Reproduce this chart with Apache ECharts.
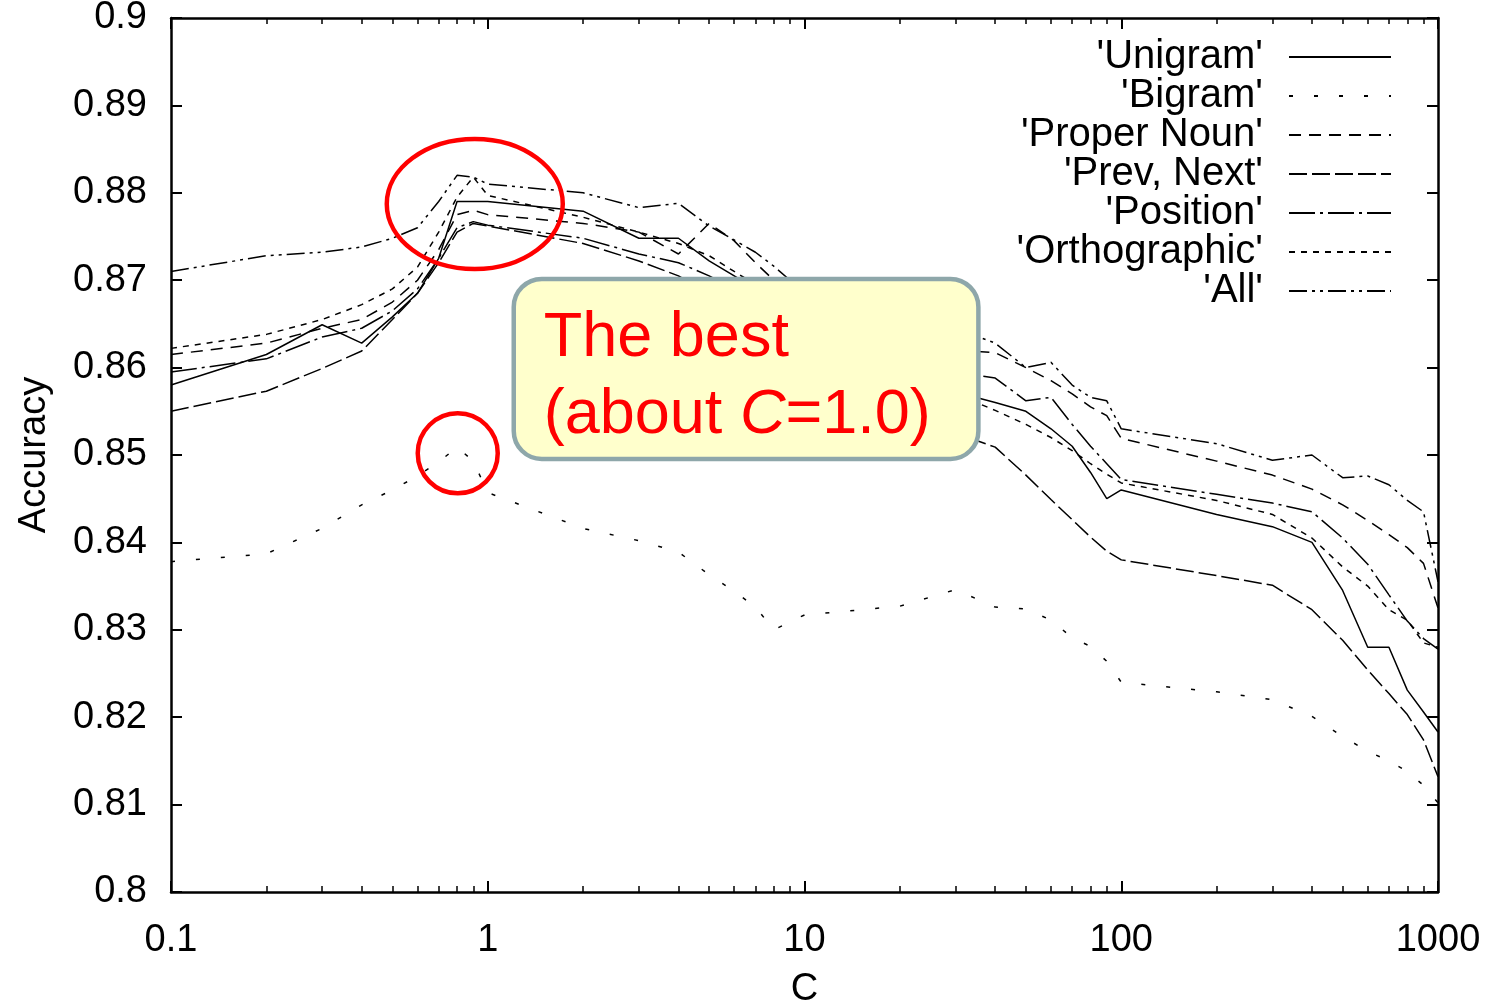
<!DOCTYPE html>
<html>
<head>
<meta charset="utf-8">
<script src="https://cdn.jsdelivr.net/npm/echarts@6/dist/echarts.min.js"></script>
<style>
html,body{margin:0;padding:0;background:#ffffff;}
#chart{width:1495px;height:1003px;}
</style>
</head>
<body>
<div id="chart"></div>
<script>
// ---------------- data ----------------
const cValues = [0.1,0.2,0.3,0.4,0.5,0.6,0.7,0.8,0.9,1,
  2,3,4,5,6,7,8,9,10,
  20,30,40,50,60,70,80,90,100,
  200,300,400,500,600,700,800,900,1000];

const seriesNames = ["'Unigram'", "'Bigram'", "'Proper Noun'", "'Prev, Next'", "'Position'", "'Orthographic'", "'All'"];

const unigram = [0.858,0.8615,0.8649,0.8628,0.8658,0.8685,0.8725,0.879,0.879,0.879,
  0.8779,0.8748,0.8748,0.8722,0.8705,0.869,0.8678,0.8668,0.866,
  0.8605,0.8572,0.856,0.855,0.853,0.851,0.848,0.845,0.846,
  0.8432,0.8418,0.840,0.8345,0.828,0.828,0.8231,0.8206,0.8183];

const bigram = [0.8378,0.8387,0.8416,0.8443,0.846,0.8476,0.8492,0.8509,0.8493,0.8457,
  0.8416,0.8402,0.8389,0.8363,0.8344,0.8326,0.830,0.8309,0.8317,
  0.8327,0.8346,0.8326,0.8324,0.8311,0.8291,0.8281,0.8264,0.824,
  0.8229,0.822,0.8201,0.8178,0.8161,0.815,0.8138,0.8122,0.8102];

const properNoun = [0.8615,0.8628,0.8645,0.8655,0.8675,0.870,0.8735,0.8775,0.878,0.8775,
  0.8765,0.8755,0.873,0.8765,0.8745,0.872,0.870,0.868,0.8665,
  0.8635,0.862,0.8617,0.860,0.8585,0.857,0.8555,0.8545,0.8519,
  0.8493,0.8477,0.8461,0.8443,0.8425,0.8409,0.8394,0.8376,0.8325];

const prevNext = [0.855,0.8573,0.8599,0.8619,0.8655,0.8685,0.872,0.8755,0.8765,0.8762,
  0.8742,0.8722,0.8705,0.8685,0.866,0.8645,0.863,0.8615,0.860,
  0.8555,0.8525,0.8509,0.8477,0.8449,0.8426,0.8406,0.839,0.838,
  0.8362,0.8351,0.8323,0.8288,0.8254,0.8227,0.8203,0.8174,0.8132];

const position = [0.8595,0.861,0.8635,0.8645,0.8665,0.869,0.8725,0.876,0.8767,0.8763,
  0.8748,0.873,0.872,0.8705,0.869,0.8675,0.866,0.8645,0.863,
  0.8605,0.8595,0.8588,0.8562,0.8566,0.8535,0.851,0.849,0.8472,
  0.8455,0.8445,0.8435,0.8405,0.8375,0.834,0.831,0.829,0.8278];

const orthographic = [0.8622,0.8638,0.8655,0.8672,0.869,0.8715,0.8755,0.8795,0.8818,0.8797,
  0.8772,0.8755,0.8742,0.8728,0.871,0.8695,0.868,0.8665,0.865,
  0.860,0.857,0.8551,0.8535,0.852,0.8505,0.849,0.8478,0.8468,
  0.8448,0.8432,0.8405,0.8372,0.835,0.8323,0.8311,0.8285,0.828];

const allFeatures = [0.871,0.8728,0.8732,0.8738,0.8748,0.876,0.879,0.882,0.8818,0.881,
  0.880,0.8783,0.8788,0.8762,0.8746,0.8732,0.8716,0.870,0.869,
  0.8665,0.8645,0.8628,0.860,0.8606,0.858,0.8566,0.8562,0.853,
  0.8513,0.8494,0.850,0.8474,0.8476,0.8466,0.8448,0.8435,0.8355];

const xTickValues = [0.1, 1, 10, 100, 1000];
const xTickLabels = ['0.1', '1', '10', '100', '1000'];
const yTickLabels = ['0.8','0.81','0.82','0.83','0.84','0.85','0.86','0.87','0.88','0.89','0.9'];
const xMinorTickValues = [0.2,0.3,0.4,0.5,0.6,0.7,0.8,0.9,
  2,3,4,5,6,7,8,9, 20,30,40,50,60,70,80,90, 200,300,400,500,600,700,800,900];

// annotation anchors in data space (C, accuracy)
const boxCorners = [[1.208, 0.87015], [35.4, 0.84955]];
const bigEllipse = { c: 0.91, v: 0.87872, rx: 88, ry: 65 };
const smallEllipse = { c: 0.804, v: 0.8502, rx: 40, ry: 40 };

// ---------------- styling ----------------
const FONT = "'Liberation Sans', Arial, Helvetica, sans-serif";
const seriesData = [unigram, bigram, properNoun, prevNext, position, orthographic, allFeatures];
const dashTypes = [
  'solid',
  [4, 21],
  [12, 8],
  [18, 5],
  [26, 5, 3, 5],
  [6, 6],
  [18, 5, 3, 5, 3, 5]
];

const chart = echarts.init(document.getElementById('chart'), null, { renderer: 'canvas' });

const gridRect = { left: 171, right: 57, top: 18, bottom: 111 };
const axisLineStyle = { color: '#000', width: 2.5 };

function xLabel(v) {
  for (let i = 0; i < xTickValues.length; i++) {
    if (Math.abs(v - xTickValues[i]) / xTickValues[i] < 1e-6) return xTickLabels[i];
  }
  return '';
}
function yLabel(v) {
  const i = Math.round((v - 0.8) / 0.01);
  return yTickLabels[i] !== undefined ? yTickLabels[i] : '';
}

const series = seriesNames.map((name, k) => ({
  name: name,
  type: 'line',
  xAxisIndex: 0,
  yAxisIndex: 0,
  symbol: 'none',
  showSymbol: false,
  smooth: false,
  animation: false,
  lineStyle: { color: '#000', width: 1.5, type: dashTypes[k] },
  itemStyle: { color: '#000' },
  emphasis: { disabled: true },
  data: cValues.map((c, i) => [c, seriesData[k][i]])
}));

const option = {
  backgroundColor: '#ffffff',
  animation: false,
  grid: [
    Object.assign({ containLabel: false, outerBoundsMode: 'none' }, gridRect),
    Object.assign({ containLabel: false, outerBoundsMode: 'none' }, gridRect)
  ],
  legend: {
    orient: 'vertical',
    right: 103,
    top: 37,
    align: 'right',
    itemWidth: 102,
    itemHeight: 14,
    itemGap: -1,
    padding: 0,
    selectedMode: false,
    data: seriesNames,
    itemStyle: { color: 'rgba(0,0,0,0)', borderWidth: 0, opacity: 0 },
    textStyle: { fontSize: 40, fontFamily: FONT, color: '#000', lineHeight: 38, padding: [0, 21, 0, 0] }
  },
  xAxis: [
    {
      type: 'log', logBase: 10, min: 0.1, max: 1000, gridIndex: 0, position: 'bottom',
      name: 'C', nameLocation: 'middle', nameGap: 79,
      nameTextStyle: { fontSize: 38, fontFamily: FONT, color: '#000' },
      axisLine: { show: true, onZero: false, lineStyle: axisLineStyle },
      axisTick: { show: true, inside: true, length: 11, lineStyle: { color: '#000', width: 2 } },
      axisLabel: { show: true, margin: 30, fontSize: 38, fontFamily: FONT, color: '#000', formatter: xLabel },
      splitLine: { show: false }, minorTick: { show: false }
    },
    {
      type: 'log', logBase: 10, min: 0.1, max: 1000, gridIndex: 0, position: 'top',
      axisLine: { show: true, onZero: false, lineStyle: axisLineStyle },
      axisTick: { show: true, inside: true, length: 11, lineStyle: { color: '#000', width: 2 } },
      axisLabel: { show: false },
      splitLine: { show: false }
    },
    {
      type: 'value', min: -1, max: 3, gridIndex: 1, position: 'bottom',
      axisLine: { show: false, onZero: false },
      axisTick: { show: true, inside: true, length: 6, customValues: xMinorTickValues.map(v => Math.log10(v)), lineStyle: { color: '#000', width: 1.5 } },
      axisLabel: { show: false },
      splitLine: { show: false }
    },
    {
      type: 'value', min: -1, max: 3, gridIndex: 1, position: 'top',
      axisLine: { show: false, onZero: false },
      axisTick: { show: true, inside: true, length: 6, customValues: xMinorTickValues.map(v => Math.log10(v)), lineStyle: { color: '#000', width: 1.5 } },
      axisLabel: { show: false },
      splitLine: { show: false }
    }
  ],
  yAxis: [
    {
      type: 'value', min: 0.8, max: 0.9, interval: 0.01, gridIndex: 0, position: 'left',
      name: 'Accuracy', nameLocation: 'middle', nameGap: 117, nameRotate: 90,
      nameTextStyle: { fontSize: 38, fontFamily: FONT, color: '#000' },
      axisLine: { show: true, onZero: false, lineStyle: axisLineStyle },
      axisTick: { show: true, inside: true, length: 11, lineStyle: { color: '#000', width: 2 } },
      axisLabel: { show: true, margin: 24, fontSize: 38, fontFamily: FONT, color: '#000', formatter: yLabel },
      splitLine: { show: false }
    },
    {
      type: 'value', min: 0.8, max: 0.9, interval: 0.01, gridIndex: 0, position: 'right',
      axisLine: { show: true, onZero: false, lineStyle: axisLineStyle },
      axisTick: { show: true, inside: true, length: 11, lineStyle: { color: '#000', width: 2 } },
      axisLabel: { show: false },
      splitLine: { show: false }
    },
    {
      type: 'value', min: 0, max: 1, gridIndex: 1, show: false,
      axisLine: { onZero: false }
    }
  ],
  series: series
};

chart.setOption(option);

// ---------------- annotations ----------------
function toPx(c, v) { return chart.convertToPixel({ gridIndex: 0 }, [c, v]); }
const p0 = toPx(boxCorners[0][0], boxCorners[0][1]);
const p1 = toPx(boxCorners[1][0], boxCorners[1][1]);
const e1 = toPx(bigEllipse.c, bigEllipse.v);
const e2 = toPx(smallEllipse.c, smallEllipse.v);

chart.setOption({
  graphic: [
    {
      type: 'rect', z: 100,
      shape: { x: p0[0], y: p0[1], width: p1[0] - p0[0], height: p1[1] - p0[1], r: 28 },
      style: { fill: '#ffffcc', stroke: '#8ea7aa', lineWidth: 4.5 }
    },
    {
      type: 'text', z: 101,
      x: p0[0] + 30, y: p0[1] + 21,
      style: {
        text: 'The best\n(about {i|C}=1.0)',
        fill: '#ff0000',
        fontSize: 63, fontFamily: FONT, lineHeight: 77,
        verticalAlign: 'top', align: 'left',
        rich: { i: { fontStyle: 'italic', fontSize: 63, fontFamily: FONT, fill: '#ff0000', lineHeight: 77 } }
      }
    },
    {
      type: 'ellipse', z: 102,
      shape: { cx: e1[0], cy: e1[1], rx: bigEllipse.rx, ry: bigEllipse.ry },
      style: { fill: 'none', stroke: '#ff0000', lineWidth: 4.5 }
    },
    {
      type: 'ellipse', z: 102,
      shape: { cx: e2[0], cy: e2[1], rx: smallEllipse.rx, ry: smallEllipse.ry },
      style: { fill: 'none', stroke: '#ff0000', lineWidth: 4.5 }
    }
  ]
});
</script>
</body>
</html>
